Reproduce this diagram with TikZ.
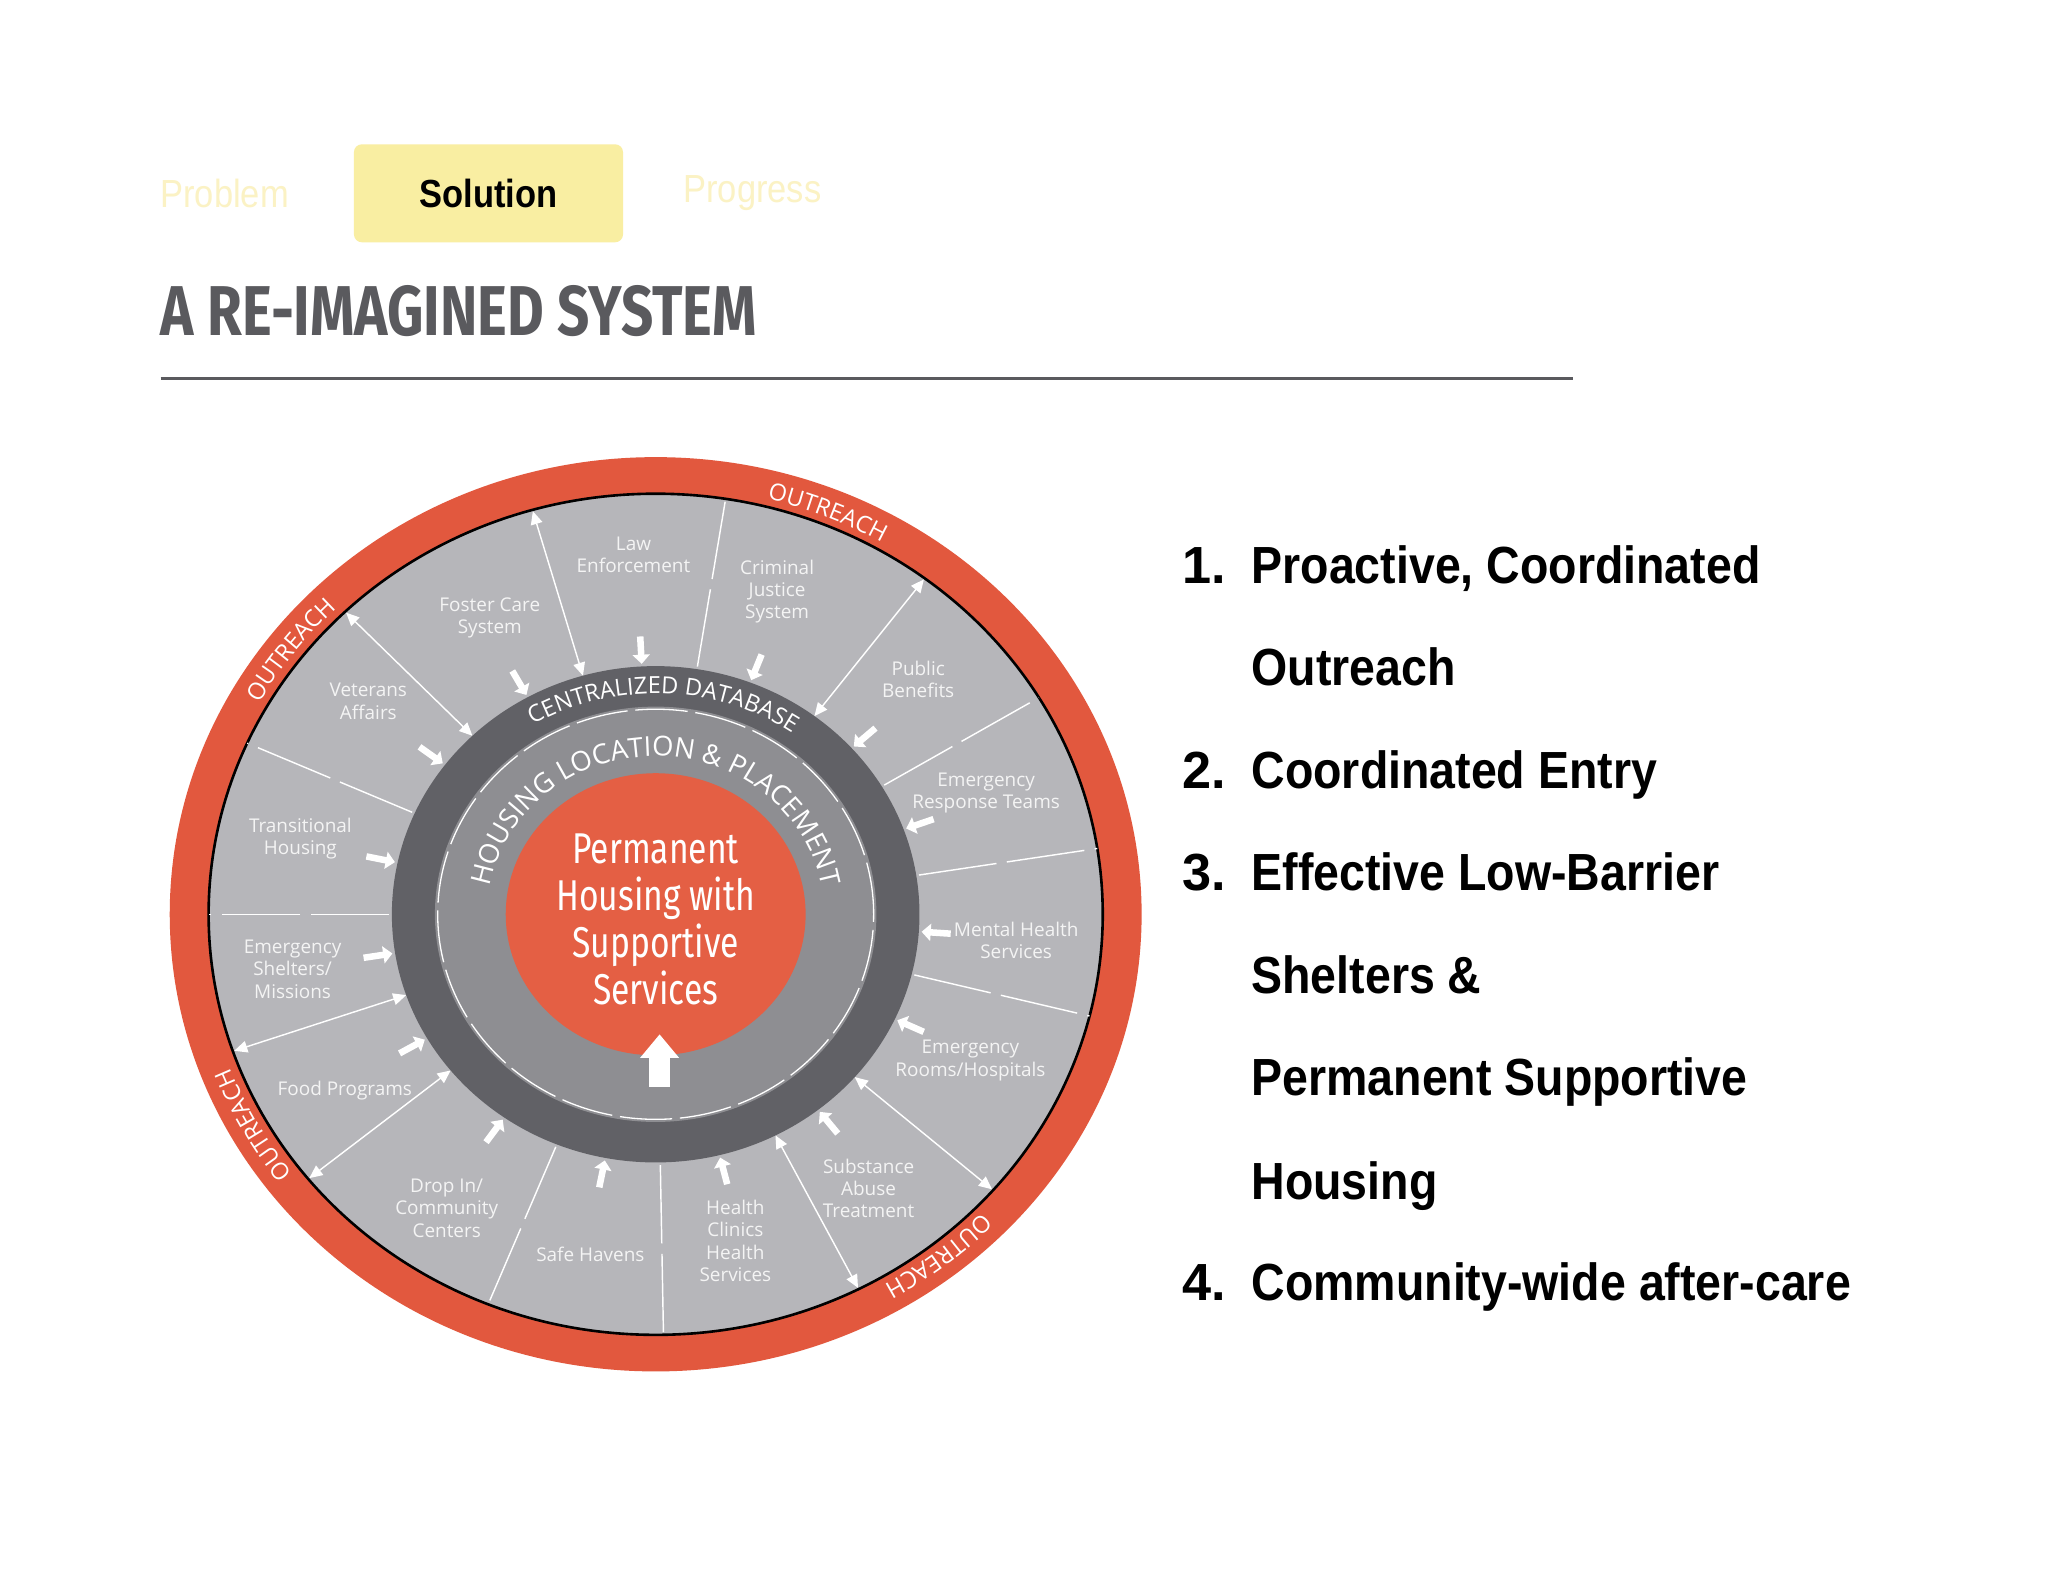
\documentclass[tikz,border=0pt]{standalone}
\usepackage{fontspec}
\usetikzlibrary{calc,decorations.text,arrows.meta}
\newfontfamily\wf{Open Sans}
\newfontfamily\cf{Fira Sans}
\newfontfamily\af{Liberation Sans}
\definecolor{orng}{HTML}{E2583E}
\definecolor{sect}{HTML}{B6B6BA}
\definecolor{dark}{HTML}{616166}
\definecolor{medg}{HTML}{8E8E92}
\definecolor{ctr}{HTML}{E45F44}
\definecolor{tabY}{HTML}{F9EEA2}
\definecolor{paleY}{HTML}{FBF2C4}
\definecolor{ttl}{HTML}{5A5A5E}
\definecolor{lbl}{HTML}{F4F4F4}
\tikzset{lab/.style={text=lbl,font=\wf\fontsize{14.5}{17}\selectfont,align=center,inner sep=0pt},
 listn/.style={anchor=base west,inner sep=0pt,font=\af\bfseries\fontsize{40}{40}\selectfont,text=black},
 inarr/.style={white,line width=5pt,-{Triangle[length=7pt,width=13pt]}},
 div/.style={white,line width=1.1pt,dash pattern=on 60pt off 8pt},
 oarr/.style={white,line width=1.1pt,{Triangle[length=10pt,width=9pt]}-{Triangle[length=10pt,width=9pt]}}}
\begin{document}
\begin{tikzpicture}[x=1pt,y=1pt]
\useasboundingbox[fill=white] (0,0) rectangle (1568,1210);
% tabs
\node[fill=tabY,rounded corners=6pt,minimum width=206,minimum height=75,inner sep=0pt] (sol) at (374,1062) {};
\node[font=\af\bfseries\fontsize{30}{30}\selectfont,text=black] (solt) at (374,1062) {\scalebox{0.88}[1]{Solution}};
\node[font=\af\fontsize{30}{30}\selectfont,text=paleY] (prob) at (172,1062) {\scalebox{0.88}[1]{Problem}};
\node[font=\af\fontsize{30}{30}\selectfont,text=paleY] (prog) at (576,1062) {\scalebox{0.88}[1]{Progress}};
\node[anchor=west,inner sep=0pt,font=\cf\bfseries\fontsize{54}{54}\selectfont,text=ttl] (title) at (123,972) {\scalebox{0.8}[1]{A RE-IMAGINED SYSTEM}};
\draw[ttl,line width=2pt] (123,920) -- (1204,920);
% wheel
\coordinate (C) at (502,510);
\begin{scope}[shift={(502,510)},xscale=1.063]
\fill[orng] (0,0) circle (350);
\fill[sect,draw=black,line width=2pt] (0,0) circle (322);
\foreach \a in {81,156,180,-112,-89,-14,9,31}{
  \draw[div] (\a:192) -- (\a:322);}
\foreach \a in {106,134,53,-161,-141,-63,-41}{
  \draw[oarr] (\a:190) -- (\a:321);}
\foreach \a in {93,69,42,20,-4,-25,-52,-76,-101,-125,-150,-171,168,143,119}{
  \draw[inarr] (\a:213) -- (\a:192);}
\fill[dark] (0,0) circle (190);
\fill[medg] (0,0) circle (159);
\draw[white,line width=1pt,dash pattern=on 40pt off 6pt] (0,0) circle (157);
\fill[ctr] (0,0) circle (108);
\end{scope}
\fill[white] (497,378) rectangle (513,400);
\fill[white] (490,400) -- (505,418) -- (520,400) -- cycle;
\node[text=white,font=\cf\fontsize{33}{36}\selectfont,align=center] (core) at (502,506)
 {\scalebox{0.78}[1]{Permanent}\\\scalebox{0.78}[1]{Housing with}\\\scalebox{0.78}[1]{Supportive}\\\scalebox{0.78}[1]{Services}};
% curved texts
\foreach \s/\e in {82/54,157/128,-136/-166,-38/-66}{
 \path[decorate,decoration={text along path,text align=center,text color=white,text={|\wf\fontsize{18}{18}\selectfont|OUTREACH}}]
  ($(C)+(\s:349 and 328)$) arc[start angle=\s,end angle=\e,x radius=349,y radius=328];}
\path[decorate,decoration={text along path,text align=center,text color=white,text={|\wf\fontsize{18}{18}\selectfont|CENTRALIZED DATABASE}}]
  ($(C)+(130:183 and 169)$) arc[start angle=130,end angle=46,x radius=183,y radius=169];
\path[decorate,decoration={text along path,text align=center,text color=white,text={|\wf\fontsize{21}{21}\selectfont|HOUSING LOCATION {\&} PLACEMENT}}]
  ($(C)+(172:129 and 121)$) arc[start angle=172,end angle=8,x radius=129,y radius=121];
% labels
\node[lab] (l1) at (485,785) {Law\\Enforcement};
\node[lab] (l2) at (595,757) {Criminal\\Justice\\System};
\node[lab] (l3) at (703,690) {Public\\Benefits};
\node[lab] (l4) at (755,603) {Emergency\\Response Teams};
\node[lab] (l5) at (778,490) {Mental Health\\Services};
\node[lab] (l6) at (743,398) {Emergency\\Rooms/Hospitals};
\node[lab] (l7) at (665,300) {Substance\\Abuse\\Treatment};
\node[lab] (l8) at (563,260) {Health\\Clinics\\Health\\Services};
\node[lab] (l9) at (452,250) {Safe Havens};
\node[lab] (l10) at (342,285) {Drop In/\\Community\\Centers};
\node[lab] (l11) at (264,375) {Food Programs};
\node[lab] (l12) at (224,468) {Emergency\\Shelters/\\Missions};
\node[lab] (l13) at (230,568) {Transitional\\Housing};
\node[lab] (l14) at (282,673) {Veterans\\Affairs};
\node[lab] (l15) at (375,737) {Foster Care\\System};
% list
\node[listn] (n1) at (905,763) {1.};
\node[listn] (t1) at (958,763) {\scalebox{0.89}[1]{Proactive, Coordinated}};
\node[listn] (t1b) at (958,685) {\scalebox{0.89}[1]{Outreach}};
\node[listn] (n2) at (905,606) {2.};
\node[listn] (t2) at (958,606) {\scalebox{0.89}[1]{Coordinated Entry}};
\node[listn] (n3) at (905,528) {3.};
\node[listn] (t3) at (958,528) {\scalebox{0.89}[1]{Effective Low-Barrier}};
\node[listn] (t3b) at (958,449) {\scalebox{0.89}[1]{Shelters \&}};
\node[listn] (t3c) at (958,371) {\scalebox{0.89}[1]{Permanent Supportive}};
\node[listn] (t3d) at (958,292) {\scalebox{0.89}[1]{Housing}};
\node[listn] (n4) at (905,214) {4.};
\node[listn] (t4) at (958,214) {\scalebox{0.89}[1]{Community-wide after-care}};
\end{tikzpicture}
\end{document}
